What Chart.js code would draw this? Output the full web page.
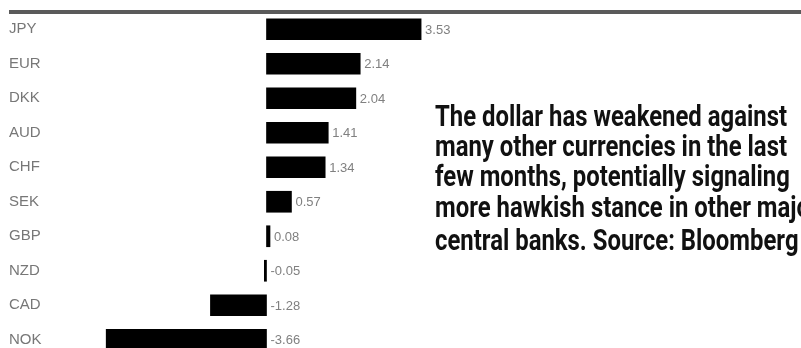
<!DOCTYPE html>
<html lang="en">
<head>
    <meta charset="UTF-8">
    <title>Dollar vs major currencies</title>
    <script src="https://cdn.jsdelivr.net/npm/chart.js"></script>
    <style>
        html, body {
            margin: 0;
            padding: 0;
            background: #ffffff;
            overflow: hidden;
            height: 348px;
        }
        #wrap {
            position: relative;
            width: 801px;
            height: 370px;
        }
    </style>
</head>
<body>
    <div id="wrap">
        <canvas id="fxChart"></canvas>
    </div>

    <script>
        const currencies = ['JPY', 'EUR', 'DKK', 'AUD', 'CHF', 'SEK', 'GBP', 'NZD', 'CAD', 'NOK'];
        const changes = [3.53, 2.14, 2.04, 1.41, 1.34, 0.57, 0.08, -0.05, -1.28, -3.66];
        const captionLines = [
            'The dollar has weakened against',
            'many other currencies in the last',
            'few months, potentially signaling',
            'more hawkish stance in other major',
            'central banks. Source: Bloomberg'
        ];
        const captionBaselines = [126, 156, 186, 217, 250];

        // rule along the top and the value next to each bar
        const decorations = {
            id: 'decorations',
            beforeDraw(chart) {
                const ctx = chart.ctx;
                ctx.save();
                ctx.fillStyle = '#5a5a5a';
                ctx.fillRect(9, 10, 792, 4);
                ctx.restore();
            },
            afterDatasetsDraw(chart) {
                const ctx = chart.ctx;
                const xScale = chart.scales.x;
                const zero = xScale.getPixelForValue(0);
                const bars = chart.getDatasetMeta(0).data;
                ctx.save();
                ctx.font = '13px "Liberation Sans", Arial, sans-serif';
                ctx.fillStyle = '#808080';
                ctx.textBaseline = 'middle';
                ctx.textAlign = 'left';
                bars.forEach((bar, i) => {
                    const v = changes[i];
                    const x = v >= 0 ? bar.x + 4 : zero + 4;
                    ctx.fillText(v.toFixed(2), x, bar.y + 1);
                });
                ctx.restore();
            },
            afterDraw(chart) {
                const ctx = chart.ctx;
                ctx.save();
                ctx.font = 'bold 29px Roboto, "Noto Sans", sans-serif';
                ctx.fillStyle = '#111111';
                ctx.textBaseline = 'alphabetic';
                // squeeze the bold face into a condensed look
                const sx = 352 / ctx.measureText(captionLines[0]).width;
                captionLines.forEach((line, i) => {
                    ctx.save();
                    ctx.translate(435, captionBaselines[i]);
                    ctx.scale(sx, 1);
                    ctx.fillText(line, 0, 0);
                    ctx.restore();
                });
                ctx.restore();
            }
        };

        const pxPerUnit = 43.8;
        const areaLeft = 60;
        const zeroX = 266.5;
        const xMin = -(zeroX - areaLeft) / pxPerUnit;
        const xMax = xMin + (801 - areaLeft) / pxPerUnit;

        new Chart(document.getElementById('fxChart'), {
            type: 'bar',
            data: {
                labels: currencies,
                datasets: [{
                    data: changes,
                    backgroundColor: '#000000',
                    borderWidth: 0,
                    barThickness: 21
                }]
            },
            options: {
                indexAxis: 'y',
                responsive: true,
                maintainAspectRatio: false,
                animation: false,
                layout: {
                    padding: { left: 9, right: 0, top: 12, bottom: 13 }
                },
                plugins: {
                    legend: { display: false },
                    tooltip: { enabled: false }
                },
                scales: {
                    x: {
                        display: false,
                        min: xMin,
                        max: xMax
                    },
                    y: {
                        border: { display: false },
                        grid: { display: false, drawTicks: false },
                        afterFit(scale) {
                            scale.width = areaLeft - 9;
                        },
                        ticks: {
                            crossAlign: 'far',
                            padding: 0,
                            color: '#777777',
                            font: { family: '"Liberation Sans", Arial, sans-serif', size: 15 }
                        }
                    }
                }
            },
            plugins: [decorations]
        });
    </script>
</body>
</html>
